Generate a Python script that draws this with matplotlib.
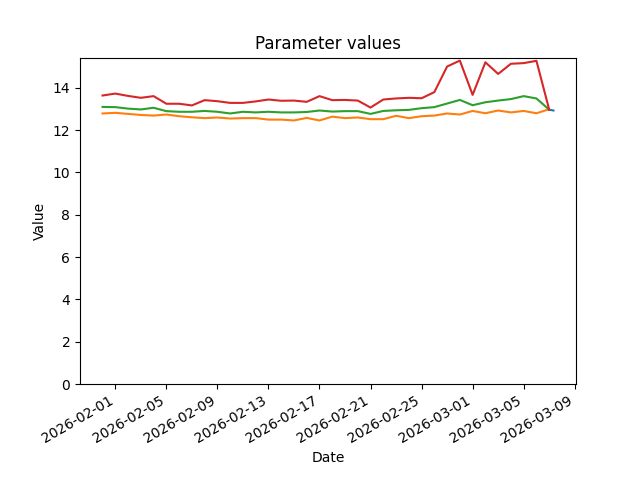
import pandas as pd
import matplotlib
matplotlib.use("Agg")
import matplotlib.pyplot as plt
import matplotlib.dates as mdates

dates = pd.date_range("2026-01-31", "2026-03-07", freq="D")

red = [13.64, 13.73, 13.62, 13.53, 13.61, 13.25, 13.25, 13.17, 13.42, 13.37,
       13.29, 13.29, 13.36, 13.45, 13.39, 13.40, 13.34, 13.61, 13.42, 13.43,
       13.40, 13.07, 13.45, 13.50, 13.53, 13.51, 13.80, 15.01, 15.29, 13.67,
       15.21, 14.66, 15.14, 15.17, 15.28, 12.97]

green = [13.10, 13.09, 13.02, 12.98, 13.06, 12.90, 12.87, 12.87, 12.91, 12.87,
         12.79, 12.87, 12.84, 12.87, 12.84, 12.84, 12.86, 12.93, 12.88, 12.90,
         12.90, 12.77, 12.91, 12.94, 12.96, 13.04, 13.09, 13.26, 13.43, 13.18,
         13.32, 13.40, 13.47, 13.61, 13.50, 12.97]

orange = [12.79, 12.82, 12.77, 12.72, 12.69, 12.74, 12.66, 12.61, 12.57, 12.60,
          12.55, 12.57, 12.57, 12.50, 12.50, 12.46, 12.58, 12.46, 12.64, 12.57,
          12.60, 12.52, 12.52, 12.68, 12.57, 12.66, 12.69, 12.79, 12.74, 12.91,
          12.80, 12.93, 12.84, 12.91, 12.80, 12.99]

# latest reading only, a few hours after the last daily point
blue_dates = pd.to_datetime(["2026-03-07 00:00", "2026-03-07 08:00"])
blue = [12.97, 12.93]

fig, ax = plt.subplots(figsize=(6.4, 4.8), dpi=100)
ax.plot(blue_dates, blue, color="tab:blue")
ax.plot(dates, orange, color="tab:orange")
ax.plot(dates, green, color="tab:green")
ax.plot(dates, red, color="tab:red")

ax.set_ylim(bottom=0)
ax.xaxis.set_major_formatter(mdates.DateFormatter("%Y-%m-%d"))
ax.set_title("Parameter values")
ax.set_xlabel("Date")
ax.set_ylabel("Value")
fig.autofmt_xdate()

fig.savefig("out.png")
